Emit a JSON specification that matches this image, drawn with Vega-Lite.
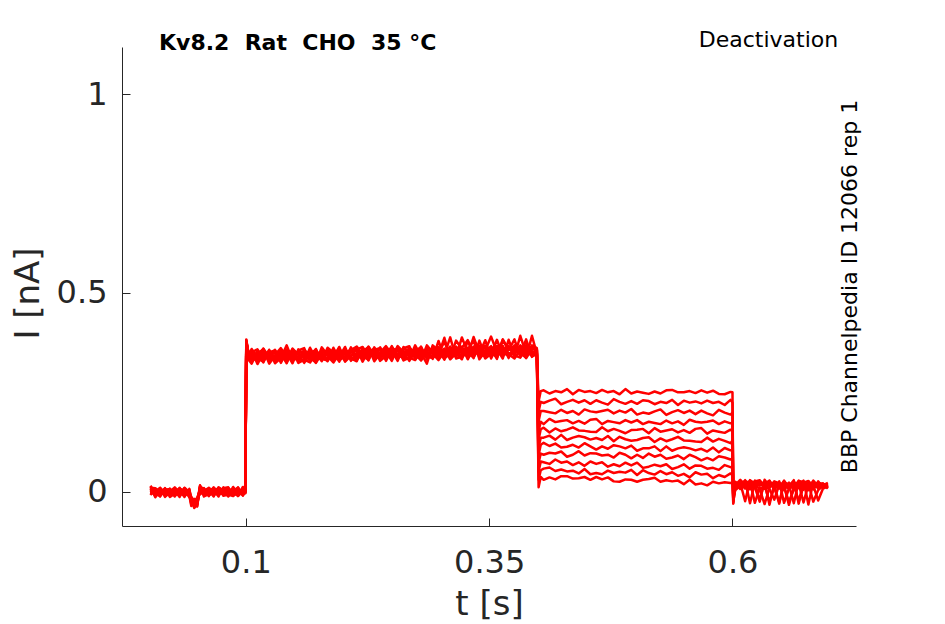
{
  "$schema": "https://vega.github.io/schema/vega-lite/v6.json",
  "width": 734,
  "height": 479,
  "autosize": {"type": "none"},
  "padding": {"left": 122, "top": 47, "right": 89, "bottom": 98},
  "background": "white",
  "title": {
    "text": "Kv8.2\u00a0 Rat\u00a0 CHO\u00a0 35 °C",
    "anchor": "start", "frame": "group", "dx": 37, "dy": 43, "offset": 0,
    "baseline": "alphabetic",
    "font": "DejaVu Sans", "fontSize": 22, "fontWeight": "bold", "color": "#000000"
  },
  "data": {"values": [
    {"t":0.002,"a":0.008,"b":-0.004,"c":0.005,"d":-0.008,"e":0.012,"f":0.001,"g":0.015,"h":-0.002,"i":0.003,"j":0.01,"k":-0.006},
    {"t":0.007,"a":-0.01,"b":0.002,"c":-0.005,"d":0.008,"e":-0.014,"f":0.004,"g":-0.003,"h":0.001,"i":-0.008,"j":0.009,"k":-0.001},
    {"t":0.012,"a":0,"b":0.009,"c":-0.011,"d":-0.006,"e":0.003,"f":-0.012,"g":0.006,"h":-0.002,"i":0.01,"j":-0.005,"k":-0.008},
    {"t":0.017,"a":-0.004,"b":-0.013,"c":0.006,"d":0,"e":-0.007,"f":0.009,"g":-0.009,"h":0.008,"i":-0.003,"j":0.003,"k":0.005},
    {"t":0.022,"a":0.008,"b":-0.002,"c":-0.007,"d":0.004,"e":0,"f":-0.01,"g":-0.005,"h":-0.013,"i":0.005,"j":-0.003,"k":0.007},
    {"t":0.027,"a":-0.012,"b":0.007,"c":0.003,"d":-0.008,"e":0.011,"f":0,"g":0.004,"h":-0.005,"i":-0.01,"j":0.001,"k":-0.003},
    {"t":0.032,"a":0.006,"b":-0.005,"c":-0.013,"d":0.002,"e":-0.002,"f":0.008,"g":-0.007,"h":0.01,"i":0.003,"j":-0.011,"k":-0.001},
    {"t":0.037,"a":-0.002,"b":0.005,"c":0.009,"d":-0.01,"e":-0.005,"f":0.002,"g":0.01,"h":-0.008,"i":-0.013,"j":0.007,"k":0.004},
    {"t":0.042,"a":0.001,"b":-0.012,"c":-0.002,"d":0.005,"e":-0.01,"f":-0.008,"g":-0.001,"h":0.003,"i":0.007,"j":-0.014,"k":-0.006},
    {"t":0.044,"a":-0.032,"b":-0.02,"c":-0.027,"d":-0.014,"e":-0.036,"f":-0.018,"g":-0.025,"h":-0.021,"i":-0.03,"j":-0.013,"k":-0.023},
    {"t":0.047,"a":-0.025,"b":-0.037,"c":-0.028,"d":-0.041,"e":-0.021,"f":-0.032,"g":-0.018,"h":-0.035,"i":-0.03,"j":-0.023,"k":-0.039},
    {"t":0.05,"a":-0.025,"b":-0.016,"c":-0.036,"d":-0.031,"e":-0.022,"f":-0.037,"g":-0.019,"h":-0.027,"i":-0.015,"j":-0.03,"k":-0.033},
    {"t":0.053,"a":0.003,"b":-0.006,"c":0.013,"d":0.007,"e":0,"f":0.016,"g":-0.002,"h":0.015,"i":0.004,"j":0.01,"k":0.012},
    {"t":0.057,"a":0.009,"b":-0.001,"c":-0.006,"d":0.005,"e":0.001,"f":-0.009,"g":-0.004,"h":-0.012,"i":0.006,"j":-0.002,"k":0.008},
    {"t":0.062,"a":-0.011,"b":0.006,"c":0.003,"d":-0.009,"e":0.01,"f":0.001,"g":0.004,"h":-0.006,"i":-0.01,"j":0.002,"k":-0.004},
    {"t":0.067,"a":0.007,"b":-0.004,"c":-0.012,"d":0.003,"e":-0.001,"f":0.009,"g":-0.006,"h":0.011,"i":0.004,"j":-0.01,"k":0},
    {"t":0.072,"a":-0.001,"b":0.006,"c":0.01,"d":-0.009,"e":-0.004,"f":0.003,"g":0.011,"h":-0.007,"i":-0.012,"j":0.008,"k":0.005},
    {"t":0.077,"a":0.005,"b":-0.008,"c":0.002,"d":0.009,"e":-0.006,"f":-0.004,"g":0.003,"h":0.007,"i":0.011,"j":-0.01,"k":-0.002},
    {"t":0.082,"a":-0.005,"b":0.007,"c":-0.002,"d":0.011,"e":-0.009,"f":0.002,"g":-0.012,"h":0.005,"i":0,"j":-0.007,"k":0.009},
    {"t":0.087,"a":0.008,"b":-0.004,"c":0.003,"d":-0.01,"e":0.012,"f":-0.006,"g":0.001,"h":-0.003,"i":0.006,"j":-0.011,"k":-0.001},
    {"t":0.092,"a":-0.001,"b":-0.01,"c":0.01,"d":0.005,"e":-0.004,"f":0.011,"g":-0.007,"h":0.001,"i":-0.011,"j":0.004,"k":0.007},
    {"t":0.097,"a":0.003,"b":0.012,"c":-0.007,"d":-0.001,"e":0.006,"f":-0.01,"g":0.008,"h":-0.009,"i":0.002,"j":-0.004,"k":-0.006},
    {"t":0.0995,"a":0.002,"b":-0.003,"c":0.005,"d":-0.001,"e":0.004,"f":0,"g":-0.002,"h":0.003,"i":0.001,"j":-0.004,"k":0.002},
    {"t":0.1005,"a":0.378,"b":0.372,"c":0.381,"d":0.369,"e":0.375,"f":0.383,"g":0.371,"h":0.377,"i":0.374,"j":0.38,"k":0.368},
    {"t":0.103,"a":0.345,"b":0.336,"c":0.342,"d":0.331,"e":0.349,"f":0.34,"g":0.344,"h":0.334,"i":0.346,"j":0.338,"k":0.341},
    {"t":0.106,"a":0.348,"b":0.329,"c":0.343,"d":0.322,"e":0.354,"f":0.337,"g":0.359,"h":0.332,"i":0.34,"j":0.351,"k":0.326},
    {"t":0.112,"a":0.327,"b":0.346,"c":0.335,"d":0.356,"e":0.321,"f":0.35,"g":0.338,"h":0.345,"i":0.33,"j":0.358,"k":0.342},
    {"t":0.118,"a":0.344,"b":0.359,"c":0.327,"d":0.335,"e":0.349,"f":0.325,"g":0.354,"h":0.341,"i":0.36,"j":0.336,"k":0.331},
    {"t":0.124,"a":0.336,"b":0.322,"c":0.352,"d":0.343,"e":0.331,"f":0.357,"g":0.328,"h":0.355,"i":0.338,"j":0.347,"k":0.351},
    {"t":0.13,"a":0.357,"b":0.341,"c":0.333,"d":0.351,"e":0.344,"f":0.328,"g":0.336,"h":0.323,"i":0.352,"j":0.339,"k":0.355},
    {"t":0.136,"a":0.324,"b":0.355,"c":0.348,"d":0.331,"e":0.361,"f":0.344,"g":0.35,"h":0.336,"i":0.328,"j":0.345,"k":0.339},
    {"t":0.142,"a":0.353,"b":0.336,"c":0.323,"d":0.347,"e":0.34,"f":0.356,"g":0.332,"h":0.368,"i":0.348,"j":0.326,"k":0.342},
    {"t":0.148,"a":0.34,"b":0.352,"c":0.358,"d":0.328,"e":0.336,"f":0.347,"g":0.36,"h":0.331,"i":0.323,"j":0.355,"k":0.35},
    {"t":0.154,"a":0.348,"b":0.328,"c":0.344,"d":0.355,"e":0.331,"f":0.334,"g":0.345,"h":0.352,"i":0.358,"j":0.324,"k":0.337},
    {"t":0.16,"a":0.335,"b":0.354,"c":0.34,"d":0.361,"e":0.329,"f":0.346,"g":0.324,"h":0.351,"i":0.343,"j":0.332,"k":0.357},
    {"t":0.166,"a":0.356,"b":0.337,"c":0.348,"d":0.327,"e":0.362,"f":0.333,"g":0.345,"h":0.338,"i":0.353,"j":0.325,"k":0.341},
    {"t":0.172,"a":0.34,"b":0.325,"c":0.357,"d":0.349,"e":0.335,"f":0.359,"g":0.33,"h":0.343,"i":0.324,"j":0.348,"k":0.353},
    {"t":0.178,"a":0.349,"b":0.363,"c":0.333,"d":0.342,"e":0.354,"f":0.328,"g":0.357,"h":0.33,"i":0.347,"j":0.338,"k":0.334},
    {"t":0.184,"a":0.328,"b":0.344,"c":0.352,"d":0.334,"e":0.341,"f":0.357,"g":0.349,"h":0.362,"i":0.333,"j":0.346,"k":0.33},
    {"t":0.19,"a":0.362,"b":0.331,"c":0.338,"d":0.355,"e":0.325,"f":0.342,"g":0.336,"h":0.35,"i":0.358,"j":0.341,"k":0.347},
    {"t":0.196,"a":0.334,"b":0.351,"c":0.364,"d":0.34,"e":0.347,"f":0.331,"g":0.355,"h":0.327,"i":0.339,"j":0.361,"k":0.345},
    {"t":0.202,"a":0.347,"b":0.335,"c":0.329,"d":0.359,"e":0.351,"f":0.34,"g":0.327,"h":0.356,"i":0.364,"j":0.332,"k":0.337},
    {"t":0.208,"a":0.339,"b":0.359,"c":0.343,"d":0.332,"e":0.356,"f":0.353,"g":0.342,"h":0.335,"i":0.329,"j":0.363,"k":0.35},
    {"t":0.214,"a":0.332,"b":0.357,"c":0.346,"d":0.338,"e":0.365,"f":0.343,"g":0.36,"h":0.328,"i":0.349,"j":0.335,"k":0.354},
    {"t":0.22,"a":0.348,"b":0.364,"c":0.336,"d":0.351,"e":0.344,"f":0.356,"g":0.327,"h":0.362,"i":0.341,"j":0.352,"k":0.333},
    {"t":0.226,"a":0.336,"b":0.341,"c":0.365,"d":0.346,"e":0.359,"f":0.33,"g":0.354,"h":0.34,"i":0.332,"j":0.364,"k":0.349},
    {"t":0.232,"a":0.357,"b":0.353,"c":0.344,"d":0.361,"e":0.334,"f":0.363,"g":0.337,"h":0.349,"i":0.358,"j":0.328,"k":0.342},
    {"t":0.238,"a":0.361,"b":0.345,"c":0.358,"d":0.329,"e":0.342,"f":0.334,"g":0.35,"h":0.357,"i":0.339,"j":0.347,"k":0.363},
    {"t":0.244,"a":0.344,"b":0.35,"c":0.333,"d":0.341,"e":0.355,"f":0.349,"g":0.366,"h":0.336,"i":0.353,"j":0.36,"k":0.329},
    {"t":0.25,"a":0.348,"b":0.332,"c":0.354,"d":0.366,"e":0.338,"f":0.362,"g":0.346,"h":0.353,"i":0.329,"j":0.342,"k":0.359},
    {"t":0.256,"a":0.356,"b":0.361,"c":0.329,"d":0.337,"e":0.366,"f":0.353,"g":0.342,"h":0.334,"i":0.364,"j":0.358,"k":0.346},
    {"t":0.262,"a":0.343,"b":0.33,"c":0.364,"d":0.358,"e":0.351,"f":0.34,"g":0.337,"h":0.361,"i":0.35,"j":0.334,"k":0.354},
    {"t":0.268,"a":0.362,"b":0.337,"c":0.348,"d":0.356,"e":0.329,"f":0.351,"g":0.334,"h":0.366,"i":0.345,"j":0.359,"k":0.34},
    {"t":0.274,"a":0.347,"b":0.331,"c":0.359,"d":0.344,"e":0.351,"f":0.339,"g":0.368,"h":0.333,"i":0.354,"j":0.343,"k":0.362},
    {"t":0.28,"a":0.359,"b":0.354,"c":0.33,"d":0.349,"e":0.336,"f":0.365,"g":0.341,"h":0.355,"i":0.363,"j":0.331,"k":0.346},
    {"t":0.286,"a":0.339,"b":0.343,"c":0.352,"d":0.322,"e":0.362,"f":0.333,"g":0.359,"h":0.347,"i":0.338,"j":0.368,"k":0.354},
    {"t":0.292,"a":0.336,"b":0.352,"c":0.339,"d":0.368,"e":0.355,"f":0.363,"g":0.347,"h":0.34,"i":0.358,"j":0.35,"k":0.334},
    {"t":0.298,"a":0.353,"b":0.347,"c":0.364,"d":0.356,"e":0.342,"f":0.348,"g":0.331,"h":0.361,"i":0.344,"j":0.337,"k":0.379},
    {"t":0.304,"a":0.35,"b":0.378,"c":0.344,"d":0.332,"e":0.36,"f":0.336,"g":0.352,"h":0.345,"i":0.387,"j":0.356,"k":0.339},
    {"t":0.31,"a":0.343,"b":0.338,"c":0.388,"d":0.362,"e":0.333,"f":0.346,"g":0.357,"h":0.365,"i":0.335,"j":0.341,"k":0.353},
    {"t":0.316,"a":0.356,"b":0.38,"c":0.335,"d":0.341,"e":0.348,"f":0.359,"g":0.362,"h":0.338,"i":0.349,"j":0.365,"k":0.345},
    {"t":0.322,"a":0.337,"b":0.359,"c":0.34,"d":0.354,"e":0.333,"f":0.365,"g":0.348,"h":0.388,"i":0.343,"j":0.351,"k":0.362},
    {"t":0.328,"a":0.354,"b":0.339,"c":0.358,"d":0.347,"e":0.38,"f":0.333,"g":0.362,"h":0.35,"i":0.357,"j":0.342,"k":0.381},
    {"t":0.334,"a":0.342,"b":0.355,"c":0.381,"d":0.338,"e":0.346,"f":0.36,"g":0.336,"h":0.365,"i":0.352,"j":0.389,"k":0.347},
    {"t":0.34,"a":0.362,"b":0.347,"c":0.333,"d":0.363,"e":0.354,"f":0.342,"g":0.38,"h":0.339,"i":0.366,"j":0.349,"k":0.358},
    {"t":0.346,"a":0.367,"b":0.381,"c":0.353,"d":0.345,"e":0.363,"f":0.356,"g":0.34,"h":0.348,"i":0.335,"j":0.364,"k":0.351},
    {"t":0.352,"a":0.35,"b":0.335,"c":0.366,"d":0.359,"e":0.342,"f":0.39,"g":0.355,"h":0.361,"i":0.347,"j":0.339,"k":0.356},
    {"t":0.358,"a":0.353,"b":0.364,"c":0.347,"d":0.334,"e":0.358,"f":0.351,"g":0.367,"h":0.343,"i":0.382,"j":0.359,"k":0.337},
    {"t":0.364,"a":0.362,"b":0.352,"c":0.364,"d":0.382,"e":0.34,"f":0.348,"g":0.359,"h":0.383,"i":0.343,"j":0.335,"k":0.367},
    {"t":0.37,"a":0.349,"b":0.36,"c":0.34,"d":0.356,"e":0.367,"f":0.343,"g":0.346,"h":0.357,"i":0.364,"j":0.382,"k":0.336},
    {"t":0.376,"a":0.346,"b":0.365,"c":0.351,"d":0.383,"e":0.34,"f":0.357,"g":0.335,"h":0.362,"i":0.354,"j":0.343,"k":0.368},
    {"t":0.382,"a":0.368,"b":0.349,"c":0.36,"d":0.339,"e":0.392,"f":0.345,"g":0.357,"h":0.35,"i":0.365,"j":0.337,"k":0.353},
    {"t":0.388,"a":0.352,"b":0.337,"c":0.369,"d":0.361,"e":0.347,"f":0.383,"g":0.342,"h":0.355,"i":0.336,"j":0.36,"k":0.365},
    {"t":0.394,"a":0.36,"b":0.392,"c":0.344,"d":0.353,"e":0.365,"f":0.339,"g":0.368,"h":0.341,"i":0.358,"j":0.349,"k":0.345},
    {"t":0.399,"a":0.356,"b":0.347,"c":0.359,"d":0.344,"e":0.358,"f":0.349,"g":0.361,"h":0.346,"i":0.357,"j":0.352,"k":0.348},
    {"t":0.4008,"a":0.227,"b":0.202,"c":0.177,"d":0.152,"e":0.131,"f":0.112,"g":0.092,"h":0.072,"i":0.05,"j":0.03,"k":0.011},
    {"t":0.403,"a":0.253,"b":0.226,"c":0.203,"d":0.176,"e":0.157,"f":0.136,"g":0.118,"h":0.096,"i":0.076,"j":0.054,"k":0.037},
    {"t":0.406,"a":0.255,"b":0.223,"c":0.203,"d":0.17,"e":0.161,"f":0.136,"g":0.123,"h":0.093,"i":0.074,"j":0.058,"k":0.03},
    {"t":0.412,"a":0.247,"b":0.229,"c":0.2,"d":0.183,"e":0.149,"f":0.141,"g":0.115,"h":0.098,"i":0.07,"j":0.061,"k":0.036},
    {"t":0.418,"a":0.253,"b":0.234,"c":0.197,"d":0.175,"e":0.159,"f":0.131,"g":0.121,"h":0.096,"i":0.081,"j":0.052,"k":0.031},
    {"t":0.424,"a":0.25,"b":0.22,"c":0.206,"d":0.178,"e":0.152,"f":0.143,"g":0.111,"h":0.101,"i":0.073,"j":0.056,"k":0.039},
    {"t":0.43,"a":0.258,"b":0.226,"c":0.198,"d":0.18,"e":0.156,"f":0.13,"g":0.113,"h":0.088,"i":0.076,"j":0.051,"k":0.039},
    {"t":0.436,"a":0.245,"b":0.231,"c":0.203,"d":0.172,"e":0.162,"f":0.136,"g":0.118,"h":0.093,"i":0.067,"j":0.053,"k":0.033},
    {"t":0.442,"a":0.256,"b":0.224,"c":0.194,"d":0.178,"e":0.154,"f":0.14,"g":0.111,"h":0.102,"i":0.074,"j":0.046,"k":0.034},
    {"t":0.448,"a":0.251,"b":0.23,"c":0.207,"d":0.171,"e":0.153,"f":0.137,"g":0.122,"h":0.091,"i":0.065,"j":0.057,"k":0.037},
    {"t":0.454,"a":0.253,"b":0.221,"c":0.202,"d":0.181,"e":0.151,"f":0.131,"g":0.114,"h":0.097,"i":0.076,"j":0.044,"k":0.03},
    {"t":0.46,"a":0.248,"b":0.23,"c":0.2,"d":0.183,"e":0.15,"f":0.135,"g":0.106,"h":0.096,"i":0.07,"j":0.047,"k":0.037},
    {"t":0.466,"a":0.256,"b":0.224,"c":0.203,"d":0.17,"e":0.162,"f":0.13,"g":0.114,"h":0.091,"i":0.074,"j":0.044,"k":0.031},
    {"t":0.472,"a":0.25,"b":0.219,"c":0.206,"d":0.178,"e":0.152,"f":0.14,"g":0.108,"h":0.093,"i":0.063,"j":0.053,"k":0.036},
    {"t":0.478,"a":0.253,"b":0.233,"c":0.197,"d":0.175,"e":0.158,"f":0.127,"g":0.117,"h":0.086,"i":0.069,"j":0.047,"k":0.026},
    {"t":0.484,"a":0.245,"b":0.226,"c":0.204,"d":0.172,"e":0.153,"f":0.138,"g":0.114,"h":0.098,"i":0.064,"j":0.05,"k":0.025},
    {"t":0.49,"a":0.258,"b":0.221,"c":0.199,"d":0.18,"e":0.147,"f":0.132,"g":0.109,"h":0.093,"i":0.073,"j":0.048,"k":0.031},
    {"t":0.496,"a":0.247,"b":0.228,"c":0.208,"d":0.174,"e":0.155,"f":0.128,"g":0.116,"h":0.084,"i":0.066,"j":0.055,"k":0.03},
    {"t":0.502,"a":0.252,"b":0.221,"c":0.194,"d":0.18,"e":0.156,"f":0.13,"g":0.103,"h":0.093,"i":0.073,"j":0.042,"k":0.025},
    {"t":0.508,"a":0.249,"b":0.23,"c":0.199,"d":0.17,"e":0.158,"f":0.135,"g":0.109,"h":0.085,"i":0.06,"j":0.054,"k":0.03},
    {"t":0.514,"a":0.246,"b":0.228,"c":0.196,"d":0.176,"e":0.147,"f":0.137,"g":0.109,"h":0.096,"i":0.063,"j":0.047,"k":0.032},
    {"t":0.52,"a":0.252,"b":0.22,"c":0.202,"d":0.173,"e":0.16,"f":0.125,"g":0.114,"h":0.088,"i":0.068,"j":0.043,"k":0.035},
    {"t":0.526,"a":0.247,"b":0.226,"c":0.207,"d":0.17,"e":0.151,"f":0.134,"g":0.102,"h":0.093,"i":0.064,"j":0.052,"k":0.025},
    {"t":0.532,"a":0.255,"b":0.223,"c":0.193,"d":0.179,"e":0.154,"f":0.127,"g":0.114,"h":0.083,"i":0.069,"j":0.044,"k":0.029},
    {"t":0.538,"a":0.256,"b":0.231,"c":0.2,"d":0.172,"e":0.157,"f":0.132,"g":0.103,"h":0.086,"i":0.057,"j":0.049,"k":0.026},
    {"t":0.544,"a":0.25,"b":0.218,"c":0.205,"d":0.177,"e":0.149,"f":0.138,"g":0.109,"h":0.091,"i":0.062,"j":0.04,"k":0.028},
    {"t":0.55,"a":0.25,"b":0.229,"c":0.198,"d":0.168,"e":0.155,"f":0.129,"g":0.112,"h":0.082,"i":0.069,"j":0.045,"k":0.019},
    {"t":0.556,"a":0.253,"b":0.224,"c":0.204,"d":0.181,"e":0.148,"f":0.128,"g":0.109,"h":0.093,"i":0.058,"j":0.036,"k":0.03},
    {"t":0.562,"a":0.248,"b":0.227,"c":0.195,"d":0.176,"e":0.158,"f":0.126,"g":0.104,"h":0.087,"i":0.066,"j":0.049,"k":0.018},
    {"t":0.568,"a":0.255,"b":0.222,"c":0.204,"d":0.174,"e":0.16,"f":0.125,"g":0.108,"h":0.079,"i":0.065,"j":0.043,"k":0.021},
    {"t":0.574,"a":0.249,"b":0.229,"c":0.197,"d":0.176,"e":0.146,"f":0.136,"g":0.101,"h":0.085,"i":0.058,"j":0.045,"k":0.016},
    {"t":0.58,"a":0.254,"b":0.223,"c":0.192,"d":0.179,"e":0.154,"f":0.126,"g":0.111,"h":0.079,"i":0.06,"j":0.034,"k":0.025},
    {"t":0.586,"a":0.246,"b":0.226,"c":0.206,"d":0.17,"e":0.151,"f":0.133,"g":0.099,"h":0.089,"i":0.055,"j":0.042,"k":0.021},
    {"t":0.592,"a":0.245,"b":0.218,"c":0.199,"d":0.177,"e":0.148,"f":0.128,"g":0.11,"h":0.086,"i":0.067,"j":0.037,"k":0.024},
    {"t":0.598,"a":0.251,"b":0.231,"c":0.194,"d":0.172,"e":0.156,"f":0.122,"g":0.104,"h":0.081,"i":0.062,"j":0.046,"k":0.022},
    {"t":0.6,"a":0.25,"b":0.224,"c":0.199,"d":0.174,"e":0.152,"f":0.129,"g":0.105,"h":0.084,"i":0.06,"j":0.041,"k":0.023},
    {"t":0.6008,"a":-0.01,"b":-0.02,"c":-0.005,"d":-0.028,"e":-0.015,"f":-0.002,"g":-0.025,"h":-0.012,"i":-0.03,"j":-0.008,"k":-0.018},
    {"t":0.603,"a":0.025,"b":0.015,"c":0.01,"d":0.021,"e":0.017,"f":0.007,"g":0.012,"h":0.004,"i":0.022,"j":0.014,"k":0.024},
    {"t":0.608,"a":0.007,"b":0.026,"c":0.022,"d":0.011,"e":0.03,"f":0.019,"g":0.023,"h":0.014,"i":0.009,"j":0.02,"k":0.016},
    {"t":0.613,"a":0.025,"b":0.014,"c":-0.024,"d":0.021,"e":0.017,"f":0.027,"g":0.012,"h":0.029,"i":0.022,"j":0.008,"k":0.018},
    {"t":0.618,"a":0.017,"b":0.024,"c":0.028,"d":0.009,"e":0.014,"f":0.021,"g":0.029,"h":-0.029,"i":0.006,"j":0.026,"k":0.023},
    {"t":0.623,"a":0.022,"b":0.009,"c":0.019,"d":0.026,"e":0.011,"f":0.013,"g":0.02,"h":0.024,"i":0.028,"j":-0.028,"k":0.015},
    {"t":0.628,"a":-0.022,"b":0.025,"c":0.016,"d":0.029,"e":-0.025,"f":0.02,"g":0.006,"h":0.023,"i":0.018,"j":0.011,"k":0.027},
    {"t":0.633,"a":0.026,"b":0.014,"c":0.021,"d":0.008,"e":0.03,"f":0.012,"g":-0.031,"h":0.015,"i":0.024,"j":0.007,"k":0.017},
    {"t":0.638,"a":0.016,"b":0.007,"c":0.027,"d":0.022,"e":0.013,"f":0.028,"g":0.01,"h":0.018,"i":-0.033,"j":0.021,"k":-0.026},
    {"t":0.643,"a":0.021,"b":-0.02,"c":0.011,"d":0.017,"e":0.024,"f":0.008,"g":0.026,"h":0.009,"i":0.02,"j":0.014,"k":0.012},
    {"t":0.648,"a":0.008,"b":0.018,"c":0.023,"d":-0.03,"e":0.016,"f":0.026,"g":0.021,"h":-0.027,"i":0.011,"j":0.019,"k":0.009},
    {"t":0.653,"a":0.028,"b":0.009,"c":0.013,"d":0.024,"e":0.005,"f":-0.028,"g":0.012,"h":0.021,"i":0.026,"j":0.015,"k":0.019},
    {"t":0.658,"a":0.01,"b":0.021,"c":-0.026,"d":0.014,"e":0.018,"f":0.008,"g":0.023,"h":0.006,"i":0.013,"j":-0.033,"k":0.017},
    {"t":0.663,"a":0.018,"b":0.011,"c":0.007,"d":0.026,"e":-0.029,"f":0.014,"g":0.006,"h":0.024,"i":0.029,"j":0.009,"k":0.012},
    {"t":0.668,"a":-0.024,"b":0.026,"c":0.016,"d":0.009,"e":0.024,"f":0.022,"g":0.015,"h":0.011,"i":-0.03,"j":0.028,"k":0.02},
    {"t":0.673,"a":0.021,"b":0.009,"c":0.018,"d":0.005,"e":0.025,"f":0.014,"g":0.028,"h":0.011,"i":0.016,"j":0.023,"k":-0.027},
    {"t":0.678,"a":0.008,"b":0.02,"c":0.013,"d":0.026,"e":0.004,"f":0.022,"g":-0.032,"h":0.019,"i":0.01,"j":0.027,"k":0.017},
    {"t":0.683,"a":0.018,"b":-0.025,"c":0.007,"d":0.012,"e":0.021,"f":0.006,"g":0.024,"h":0.016,"i":0.028,"j":0.013,"k":0.01},
    {"t":0.688,"a":0.013,"b":0.004,"c":0.023,"d":0.017,"e":0.01,"f":0.026,"g":0.008,"h":-0.022,"i":0.014,"j":0.02,"k":0.022},
    {"t":0.693,"a":0.021,"b":0.015,"c":0.012,"d":0.019,"e":0.016,"f":0.01,"g":0.013,"h":0.008,"i":0.019,"j":0.014,"k":0.02},
    {"t":0.698,"a":0.008,"b":0.02,"c":0.017,"d":0.011,"e":0.022,"f":0.016,"g":0.018,"h":0.013,"i":0.01,"j":0.016,"k":0.014}
  ]},
  "layer": [
    {
      "transform": [{"fold": ["a","b","c","d","e","f","g","h","i","j","k"], "as": ["sweep", "i"]}],
      "mark": {"type": "line", "color": "#ff0000", "strokeWidth": 2.5, "strokeJoin": "round", "clip": true},
      "encoding": {
        "x": {
          "field": "t", "type": "quantitative",
          "scale": {"domain": [-0.0272, 0.7269], "nice": false, "zero": false},
          "axis": {
            "values": [0.1, 0.35, 0.6], "format": "~g", "title": "t [s]",
            "grid": false, "tickSize": -8, "labelPadding": 29,
            "labelFontSize": 32, "titleFontSize": 34, "titleFontWeight": "normal",
            "labelFont": "DejaVu Sans", "titleFont": "DejaVu Sans",
            "titleX": 367, "titleY": 88, "titleBaseline": "alphabetic", "titleAlign": "center",
            "labelFlush": false, "labelOverlap": false,
            "domainColor": "#262626", "tickColor": "#262626", "labelColor": "#262626", "titleColor": "#262626"
          }
        },
        "y": {
          "field": "i", "type": "quantitative",
          "scale": {"domain": [-0.0862, 1.1182], "nice": false, "zero": false},
          "axis": {
            "values": [0, 0.5, 1], "format": "~g", "title": "I [nA]",
            "grid": false, "tickSize": -8, "labelPadding": 23,
            "labelFontSize": 32, "titleFontSize": 34, "titleFontWeight": "normal",
            "labelFont": "DejaVu Sans", "titleFont": "DejaVu Sans",
            "titleX": -84, "titleY": 246, "titleBaseline": "alphabetic", "titleAlign": "center",
            "labelFlush": false, "labelOverlap": false,
            "domainColor": "#262626", "tickColor": "#262626", "labelColor": "#262626", "titleColor": "#262626"
          }
        },
        "detail": {"field": "sweep", "type": "nominal"}
      }
    },
    {
      "data": {"values": [{"t": 0.7086, "i": 1.118, "label": "Deactivation"}]},
      "mark": {"type": "text", "align": "right", "baseline": "alphabetic", "font": "DejaVu Sans", "fontSize": 22, "color": "#000000", "clip": false},
      "encoding": {
        "x": {"field": "t", "type": "quantitative"},
        "y": {"field": "i", "type": "quantitative"},
        "text": {"field": "label", "type": "nominal"}
      }
    },
    {
      "data": {"values": [{"t": 0.7279, "i": 0.516, "label": "BBP Channelpedia ID 12066 rep 1"}]},
      "mark": {"type": "text", "align": "center", "baseline": "alphabetic", "angle": -90, "font": "DejaVu Sans", "fontSize": 22, "color": "#000000", "clip": false},
      "encoding": {
        "x": {"field": "t", "type": "quantitative"},
        "y": {"field": "i", "type": "quantitative"},
        "text": {"field": "label", "type": "nominal"}
      }
    }
  ],
  "config": {
    "view": {"stroke": null},
    "axis": {"domainWidth": 1, "tickWidth": 1}
  }
}
